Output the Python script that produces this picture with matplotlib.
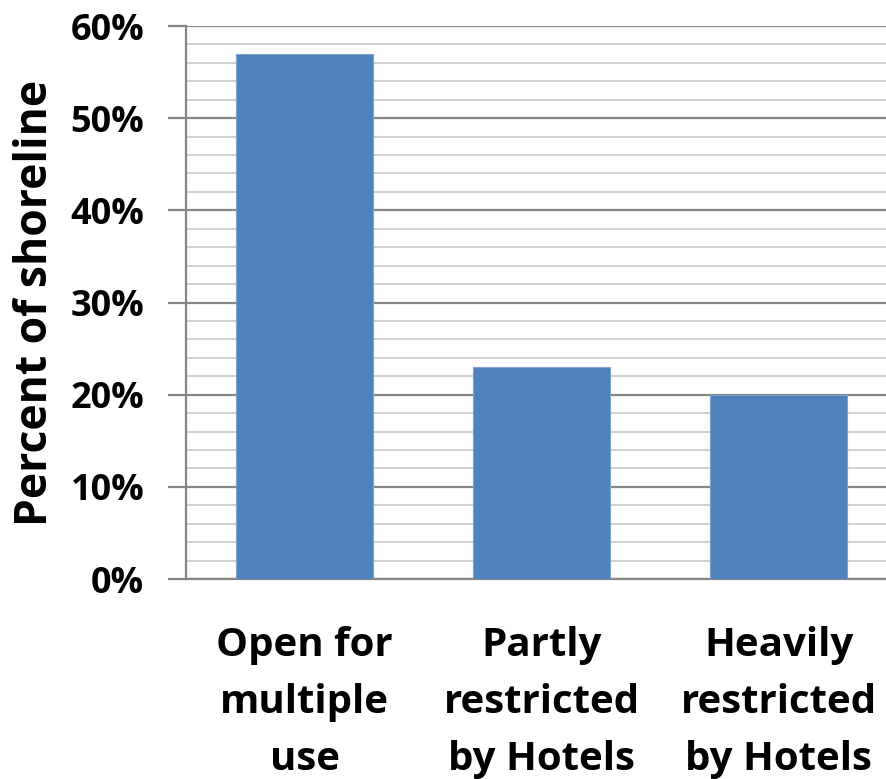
import matplotlib
matplotlib.use("Agg")
import matplotlib.pyplot as plt
from matplotlib.ticker import MultipleLocator, FuncFormatter

categories = ["Open for\nmultiple\nuse", "Partly\nrestricted\nby Hotels", "Heavily\nrestricted\nby Hotels"]
values = [57, 23, 20]
y_ticks = [0, 10, 20, 30, 40, 50, 60]

plt.rcParams["font.family"] = ["Open Sans", "DejaVu Sans"]
plt.rcParams["font.weight"] = "bold"

fig = plt.figure(figsize=(8.87, 7.79), dpi=100)
ax = fig.add_axes([0.2097, 0.2567, 0.8016, 0.7099])

ax.bar(range(len(values)), values, width=0.58, color="#4f81bd",
       edgecolor="#7ea1d0", linewidth=0.8, zorder=3)

ax.set_xlim(-0.5, 2.5)
ax.set_ylim(0, 60)
ax.set_yticks(y_ticks)
ax.yaxis.set_major_formatter(FuncFormatter(lambda v, p: f"{int(v)}%"))
ax.yaxis.set_minor_locator(MultipleLocator(2))

ax.grid(axis="y", which="major", color="#868686", linewidth=1.6, zorder=0)
ax.grid(axis="y", which="minor", color="#c8c8c8", linewidth=1.2, zorder=0)
ax.set_axisbelow(True)

ax.set_xticks(range(len(categories)))
ax.set_xticklabels(categories, fontsize=29, fontweight="bold", linespacing=1.6)
ax.tick_params(axis="x", length=0, pad=34)
ax.tick_params(axis="y", which="major", length=13, width=1.6, color="#868686",
               labelsize=26, pad=17)
ax.tick_params(axis="y", which="minor", length=0)

for side in ["top", "right"]:
    ax.spines[side].set_visible(False)
ax.spines["left"].set_color("#868686")
ax.spines["left"].set_linewidth(1.6)
ax.spines["bottom"].set_color("#868686")
ax.spines["bottom"].set_linewidth(1.6)

ax.set_ylabel("Percent of shoreline", fontsize=32, fontweight="bold", labelpad=9)

fig.savefig("out.png", dpi=100)
